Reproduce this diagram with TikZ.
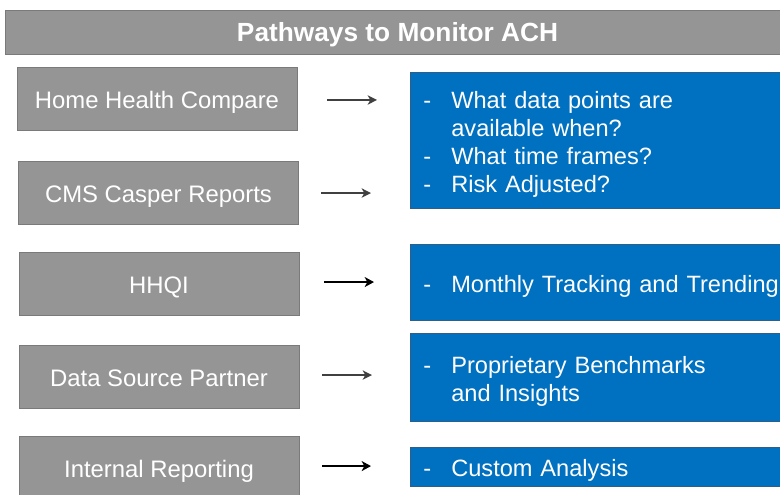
\documentclass[tikz,border=0pt]{standalone}
\usepackage{fontspec}
\setmainfont{Liberation Sans}
\usetikzlibrary{arrows.meta}
\definecolor{boxgray}{HTML}{959595}
\definecolor{edgegray}{HTML}{7A7A7A}
\definecolor{boxblue}{HTML}{0070C0}
\definecolor{edgeblue}{HTML}{2F5F86}
\definecolor{arrgray}{HTML}{404040}
\tikzset{
  px/.style={x=0.75pt,y=-0.75pt},
  titlebar/.style={fill=boxgray,draw=edgegray,line width=0.6pt,minimum width=775*0.75pt,minimum height=44*0.75pt,inner sep=0pt,
    text=white,font=\fontsize{19.7pt}{23pt}\selectfont\bfseries},
  graybox/.style={fill=boxgray,draw=edgegray,line width=0.6pt,minimum width=280*0.75pt,minimum height=63*0.75pt,inner sep=0pt,
    text height=13pt,text depth=4pt,
    text=white,font=\fontsize{17.9pt}{21.4pt}\selectfont},
  bluebox/.style={fill=boxblue,draw=edgeblue,line width=0.5pt,inner xsep=9.75pt,inner ysep=0pt,text width=258pt,align=left,
    text=white,font=\fontsize{17.7pt}{21pt}\selectfont},
  arr/.style={-{Stealth[length=7pt,width=7pt,inset=2pt]},line width=1.2pt,draw=arrgray},
  arrb/.style={-{Stealth[length=7pt,width=7.5pt,inset=2pt]},line width=1.6pt,draw=black},
}
\newcommand{\lowr}[2]{\raisebox{-#1}[\height][\depth]{#2}}
\newcommand{\bl}[1]{\lowr{3.4pt}{\begin{tabular}{@{}p{21pt}@{}l@{}}#1\end{tabular}}}
\begin{document}
\begin{tikzpicture}[px]
\clip (0,0) rectangle (780,494);
\fill[white] (0,0) rectangle (780,494);
\node[titlebar] (title) at (392.5,32) {\lowr{2.3pt}{\hspace*{7.5pt}Pathways to Monitor ACH}};
\node[graybox] (g1) at (157,98.5) {\lowr{3pt}{Home Health Compare}};
\node[graybox] (g2) at (158.5,192.5) {\lowr{3pt}{CMS Casper Reports}};
\node[graybox] (g3) at (159,283.5) {\lowr{3pt}{HHQI}};
\node[graybox] (g4) at (159,376.5) {\lowr{3pt}{Data Source Partner}};
\node[graybox,minimum height=66*0.75pt] (g5) at (159,469) {\lowr{1.5pt}{Internal Reporting}};
\node[bluebox,minimum height=136*0.75pt,anchor=west] (b1) at (410,140) {\bl{-&What data points are\\&available when?\\-&What time frames?\\-&Risk Adjusted?}};
\node[bluebox,minimum height=76*0.75pt,anchor=west] (b2) at (410,282) {\bl{-&Monthly Tracking and Trending}};
\node[bluebox,minimum height=88*0.75pt,anchor=west] (b3) at (410,377) {\bl{-&Proprietary Benchmarks\\&and Insights}};
\node[bluebox,minimum height=39*0.75pt,anchor=west] (b4) at (410,466.5) {\bl{-&Custom Analysis}};
\coordinate (a1s) at ([yshift=-1.1pt]g1.east);
\draw[arr,shorten <=30*0.75pt,shorten >=33*0.75pt] (a1s) -- (a1s -| b1.west);
\draw[arr,shorten <=22.5*0.75pt,shorten >=39*0.75pt] ([yshift=-0.4pt]g2.east) -- ([yshift=-0.4pt]g2.east -| b1.west);
\draw[arrb,shorten <=25*0.75pt,shorten >=36*0.75pt] ([yshift=1.1pt]g3.east) -- ([yshift=1.1pt]g3.east -| b2.west);
\draw[arr,shorten <=23*0.75pt,shorten >=38*0.75pt] ([yshift=1.1pt]g4.east) -- ([yshift=1.1pt]g4.east -| b3.west);
\draw[arrb,shorten <=23*0.75pt,shorten >=39*0.75pt] ([yshift=2.2pt]g5.east) -- ([yshift=2.2pt]g5.east -| b4.west);
\end{tikzpicture}
\end{document}
